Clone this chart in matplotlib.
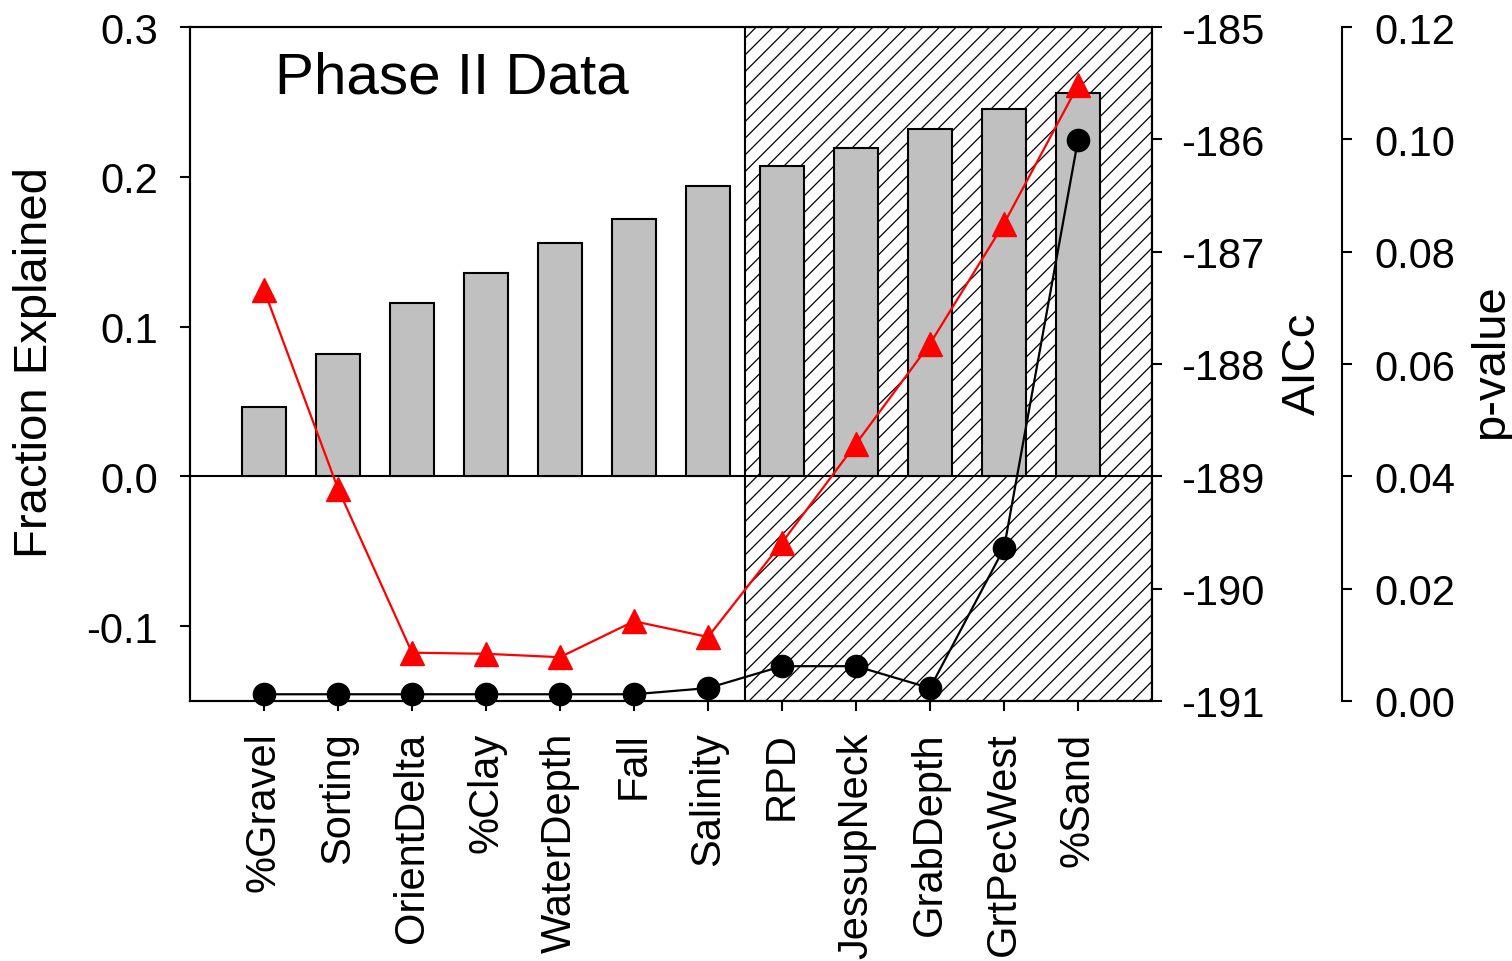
import matplotlib
matplotlib.use("Agg")
import matplotlib.pyplot as plt
import numpy as np

plt.rcParams['font.family'] = ['Liberation Sans', 'DejaVu Sans']
plt.rcParams['hatch.linewidth'] = 0.9

categories = ['%Gravel', 'Sorting', 'OrientDelta', '%Clay', 'WaterDepth', 'Fall',
              'Salinity', 'RPD', 'JessupNeck', 'GrabDepth', 'GrtPecWest', '%Sand']
fraction_explained = [0.046, 0.082, 0.116, 0.136, 0.156, 0.172,
                      0.194, 0.207, 0.219, 0.232, 0.245, 0.256]
aicc = [-187.34, -189.11, -190.57, -190.58, -190.61, -190.29,
        -190.43, -189.59, -188.71, -187.82, -186.75, -185.52]
p_value = [0.0012, 0.0012, 0.0012, 0.0012, 0.0012, 0.0012,
           0.0023, 0.0062, 0.0062, 0.0023, 0.0272, 0.0999]

left_ticks = [-0.1, 0.0, 0.1, 0.2, 0.3]
left_ticklabels = ['-0.1', '0.0', '0.1', '0.2', '0.3']
aicc_ticks = [-191, -190, -189, -188, -187, -186, -185]
p_ticks = [0.00, 0.02, 0.04, 0.06, 0.08, 0.10, 0.12]
p_ticklabels = ['0.00', '0.02', '0.04', '0.06', '0.08', '0.10', '0.12']

W, H = 1512, 962
fig = plt.figure(figsize=(W / 100, H / 100), dpi=100)
ax = fig.add_axes([190 / W, (H - 702) / H, (1152 - 190) / W, (702 - 28) / H])

x = np.arange(1, len(categories) + 1)
ax.set_xlim(0, len(categories) + 1)
ax.set_ylim(-0.15, 0.3)

# hatched region
ax.axvspan(7.5, 13, facecolor='white', edgecolor='black', hatch='//',
           linewidth=1.5, zorder=1)
ax.axhline(0, color='black', linewidth=1.5, zorder=2)
ax.bar(x, fraction_explained, width=0.6, color='#c0c0c0', edgecolor='black',
       linewidth=1.5, zorder=3)

fs = 30
ax.set_xticks(x)
ax.set_xticklabels(categories, rotation=90, fontsize=fs, va='top', ha='center')
ax.set_yticks(left_ticks)
ax.set_yticklabels(left_ticklabels, fontsize=fs)
ax.tick_params(axis='y', direction='out', length=7, width=1.5, pad=16)
ax.tick_params(axis='x', direction='out', length=7, width=1.5, pad=15)
for s in ax.spines.values():
    s.set_linewidth(1.5)

ax2 = ax.twinx()
ax2.set_ylim(-191, -185)
ax2.plot(x, aicc, color='red', marker='^', markersize=17, linewidth=1.6, zorder=4)
ax2.set_yticks(aicc_ticks)
ax2.set_yticklabels([str(t) for t in aicc_ticks], fontsize=fs)
ax2.tick_params(axis='y', direction='out', length=7, width=1.5, pad=14)
for s in ax2.spines.values():
    s.set_linewidth(1.5)

ax3 = ax.twinx()
ax3.set_ylim(0, 0.12)
ax3.spines['right'].set_position(('axes', (1342 - 190) / (1152 - 190)))
ax3.spines['right'].set_linewidth(1.5)
for k in ['left', 'top', 'bottom']:
    ax3.spines[k].set_visible(False)
ax3.plot(x, p_value, color='black', marker='o', markersize=16, linewidth=1.6,
         zorder=5, clip_on=False)
ax3.set_yticks(p_ticks)
ax3.set_yticklabels(p_ticklabels, fontsize=fs)
ax3.tick_params(axis='y', direction='out', length=7, width=1.5, pad=16)

ax.text((275 - 190) / 962, (702 - 94) / 674, 'Phase II Data', transform=ax.transAxes,
        fontsize=42, ha='left', va='baseline')

fig.text(35 / W, 1 - 363 / H, 'Fraction Explained', rotation=90, fontsize=34,
         ha='center', va='center')
fig.text(1303 / W, 1 - 364 / H, 'AICc', rotation=90, fontsize=34,
         ha='center', va='center')
fig.text(1491 / W, 1 - 362 / H, 'p-value', rotation=90, fontsize=34,
         ha='center', va='center')

fig.savefig('out.png', dpi=100)
